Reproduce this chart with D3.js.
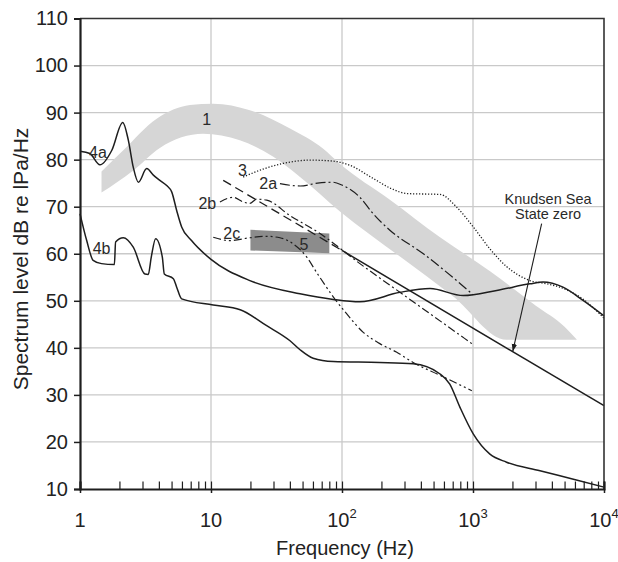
<!DOCTYPE html>
<html>
<head>
<meta charset="utf-8">
<script src="https://cdn.jsdelivr.net/npm/d3@7"></script>
<style>
  body { margin: 0; background: #fff; }
  svg { display: block; font-family: "Liberation Sans", Arial, sans-serif; }
</style>
</head>
<body>
<svg id="chart" width="618" height="562"></svg>
<script>
// ---- data: [frequency Hz, level dB] ----
const curve4a = [[1.0, 81.8], [1.19, 81.3], [1.42, 78.9], [1.75, 82.0], [2.12, 87.9], [2.34, 84.1], [2.55, 78.4],
  [2.79, 75.2], [3.23, 78.1], [3.63, 76.7], [4.07, 75.6], [4.59, 74.5], [5.02, 73.1], [5.47, 69.2], [5.97, 65.7],
  [7.1, 62.8], [10, 58.8], [19.8, 54.3], [47.8, 51.5], [85.8, 50.3], [137, 49.8], [277, 51.8], [470, 52.6],
  [843, 51.1], [1517, 52.2], [2723, 53.6], [3420, 54.0], [4863, 52.9], [6918, 50.1], [10000, 46.8]];

const curve4b = [[1.0, 68.5], [1.125, 62.8], [1.26, 58.6], [1.46, 57.9], [1.83, 57.7], [1.87, 62.5], [2.14, 63.4],
  [2.55, 61.4], [3.13, 55.7], [3.32, 55.6], [3.5, 59.3], [3.78, 63.2], [4.25, 59.3], [4.40, 55.7], [5.16, 54.7],
  [5.47, 52.9], [5.97, 50.4], [10.4, 49.1], [16.7, 48.1], [26.6, 44.7], [40.1, 41.5], [47.8, 39.6], [60.2, 37.8],
  [85.8, 37.1], [194, 36.9], [349, 36.6], [557, 34.5], [665, 32.3], [794, 27.4], [1004, 21.7], [1346, 17.4],
  [1804, 15.7], [3247, 13.9], [6148, 11.9], [10000, 10.4]];

const band1Upper = [[1.46, 77.5], [2.14, 82.0], [3.85, 88.7], [6.91, 91.6], [10.4, 91.9], [19.8, 90.5], [40.1, 86.6],
  [71.9, 82.3], [96.5, 79.1], [232, 71.5], [560, 63.5], [1349, 56.3], [3000, 49.0], [5000, 44.5], [6194, 41.8]];
const band1Lower = [[1.46, 73.0], [2.55, 77.7], [4.07, 82.5], [8.7, 85.5], [16.6, 84.1], [29.9, 80.6], [47.8, 76.3],
  [96.5, 69.0], [277, 59.4], [700, 51.0], [1807, 41.7], [6194, 41.7]];

const curve3 = [[17.6, 76.3], [25, 78.0], [35.6, 79.2], [57, 79.9], [85, 79.7], [115, 78.8], [173, 76.0], [240, 73.8],
  [312, 72.8], [560, 72.6], [751, 69.9], [1005, 65.7], [1349, 61.0], [1800, 57.3], [2723, 54.3], [3655, 53.6],
  [4614, 52.9], [6950, 50.3], [10000, 46.3]];

const curve2a = [[33.6, 74.9], [48, 74.4], [65, 75.0], [85, 75.2], [100, 74.6], [137, 72.0], [173, 68.5], [232, 65.0],
  [418, 60.0], [700, 55.0], [1000, 51.3]];

const curve2b = [[11.7, 71.0], [14.8, 72.0], [17.6, 71.0], [19.8, 70.7], [22.3, 71.6], [26.6, 71.4], [40.1, 68.1],
  [67.9, 64.3], [137, 57.9], [330, 50.3], [980, 40.9]];

const curve2c = [[10.4, 63.5], [13.9, 62.8], [19.8, 63.4], [26.6, 63.7], [33.6, 63.4], [42.4, 62.1], [53.8, 59.3],
  [64.1, 56.0], [86, 50.8], [108.8, 47.2], [145.3, 43.3], [194.4, 40.9], [260, 39.1], [349, 36.9], [557, 34.2],
  [980, 30.9]];

const knudsenDashed = [[12.4, 75.6], [100, 60.7]];
const knudsenSolid = [[100, 60.7], [10000, 27.7]];
const knudsenArrow = [[3342, 66.4], [2010, 39.2]];

const box5 = [[20, 65.1], [80, 64.3], [80, 60.1], [20, 60.7]];

const curveLabels = [
  { text: "1", f: 9.27, db: 88.6 }, { text: "4a", f: 1.37, db: 81.6 }, { text: "4b", f: 1.46, db: 61.1 },
  { text: "3", f: 17.4, db: 77.6 }, { text: "2a", f: 27.3, db: 74.9 }, { text: "2b", f: 9.37, db: 70.6 },
  { text: "2c", f: 14.4, db: 64.4 }, { text: "5", f: 51.3, db: 62.0 }
];
const knudsenText = [{ text: "Knudsen Sea", f: 3740, db: 71.7 }, { text: "State zero", f: 3740, db: 68.4 }];

const xTickValues = [1, 10, 100, 1000, 10000];
const xTickLabels = [["1", ""], ["10", ""], ["10", "2"], ["10", "3"], ["10", "4"]];
const yTickValues = [10, 20, 30, 40, 50, 60, 70, 80, 90, 100, 110];
const gridX = [10, 100, 1000];
const gridY = [20, 30, 40, 50, 60, 70, 80, 90, 100];

// ---- chart ----
const svg = d3.select("#chart");
const x = d3.scaleLog().domain([1, 1e4]).range([80, 604]);
const y = d3.scaleLinear().domain([10, 110]).range([489, 18.5]);
const ink = "#1e1e1e";

// grid
svg.append("g").selectAll("line").data(gridX).join("line")
  .attr("x1", d => x(d)).attr("x2", d => x(d)).attr("y1", y(10)).attr("y2", y(110))
  .attr("stroke", "#c9c9c9").attr("stroke-width", 1.3);
svg.append("g").selectAll("line").data(gridY).join("line")
  .attr("x1", x(1)).attr("x2", x(1e4)).attr("y1", d => y(d)).attr("y2", d => y(d))
  .attr("stroke", "#c9c9c9").attr("stroke-width", 1.3);

const line = d3.line().x(d => x(d[0])).y(d => y(d[1])).curve(d3.curveMonotoneX);

// shaded band 1
const bandPath = line(band1Upper) + line(band1Lower.slice().reverse()).replace(/^M/, "L") + "Z";
svg.append("path").attr("d", bandPath).attr("fill", "#d6d6d6");

// box 5
svg.append("path")
  .attr("d", d3.line().x(d => x(d[0])).y(d => y(d[1]))(box5) + "Z")
  .attr("fill", "#8c8c8c");

// curves
const curves = [
  { data: curve4a, dash: null, w: 1.5 },
  { data: curve4b, dash: null, w: 1.5 },
  { data: curve3, dash: "1.2,1.8", w: 1.3 },
  { data: curve2a, dash: "10,3,2,3", w: 1.2 },
  { data: curve2b, dash: "8,3,2,3", w: 1.2 },
  { data: curve2c, dash: "8,3,2,3,2,3", w: 1.2 },
  { data: knudsenDashed, dash: "9,5", w: 1.3 },
  { data: knudsenSolid, dash: null, w: 1.5 }
];
svg.append("g").selectAll("path").data(curves).join("path")
  .attr("d", d => line(d.data))
  .attr("fill", "none").attr("stroke", ink)
  .attr("stroke-width", d => d.w)
  .attr("stroke-dasharray", d => d.dash);

// arrow to Knudsen line
svg.append("defs").append("marker")
  .attr("id", "arrow").attr("viewBox", "0 0 10 10").attr("refX", 10).attr("refY", 5)
  .attr("markerWidth", 7).attr("markerHeight", 7).attr("orient", "auto")
  .append("path").attr("d", "M0,1.5L10,5L0,8.5Z").attr("fill", ink);
svg.append("line")
  .attr("x1", x(knudsenArrow[0][0])).attr("y1", y(knudsenArrow[0][1]))
  .attr("x2", x(knudsenArrow[1][0])).attr("y2", y(knudsenArrow[1][1]))
  .attr("stroke", ink).attr("stroke-width", 1.1).attr("marker-end", "url(#arrow)");

// labels
svg.append("g").selectAll("text").data(curveLabels).join("text")
  .attr("x", d => x(d.f)).attr("y", d => y(d.db))
  .attr("text-anchor", "middle").attr("dominant-baseline", "central")
  .attr("font-size", 16).attr("fill", "#2a2a2a")
  .text(d => d.text);
svg.append("g").selectAll("text").data(knudsenText).join("text")
  .attr("x", d => x(d.f)).attr("y", d => y(d.db))
  .attr("text-anchor", "middle").attr("dominant-baseline", "central")
  .attr("font-size", 14.5).attr("fill", "#2a2a2a")
  .text(d => d.text);

// frame (top, right)
svg.append("path")
  .attr("d", `M${x(1)},${y(110)}H${x(1e4)}V${y(10)}`)
  .attr("fill", "none").attr("stroke", "#333").attr("stroke-width", 1.6);

// y axis
const yAxisG = svg.append("g").attr("transform", `translate(${x(1)},0)`)
  .call(d3.axisLeft(y).tickValues(yTickValues).tickSize(6).tickPadding(6));
yAxisG.select(".domain").attr("stroke", ink).attr("stroke-width", 2.2);
yAxisG.selectAll(".tick line").attr("stroke", ink).attr("stroke-width", 1.5);
yAxisG.selectAll("text").attr("font-size", 20).attr("fill", "#222").attr("font-family", null);

// x axis: minor ticks inward, majors crossing
const minorTicks = [];
for (let e = 0; e < 4; e++) for (let m = 1; m < 10; m++) minorTicks.push(m * Math.pow(10, e));
minorTicks.push(1e4);
const xAxisG = svg.append("g").attr("transform", `translate(0,${y(10)})`)
  .call(d3.axisBottom(x).tickValues(minorTicks).tickSize(-7.5).tickFormat(""));
xAxisG.select(".domain").attr("stroke", ink).attr("stroke-width", 2.2);
xAxisG.selectAll(".tick line").attr("stroke", ink).attr("stroke-width", 1.2);

const xMajorG = svg.append("g").attr("transform", `translate(0,${y(10)})`)
  .call(d3.axisBottom(x).tickValues(xTickValues).tickSize(4).tickFormat(""));
xMajorG.select(".domain").remove();
xMajorG.selectAll(".tick line").attr("stroke", ink).attr("stroke-width", 1.5);

const xLab = svg.append("g").selectAll("text").data(xTickValues).join("text")
  .attr("x", d => x(d)).attr("y", y(10) + 38)
  .attr("text-anchor", "middle").attr("font-size", 20).attr("fill", "#222");
xLab.append("tspan").text((d, i) => xTickLabels[i][0]);
xLab.append("tspan").attr("font-size", 13).attr("dy", -9).text((d, i) => xTickLabels[i][1]);

// axis titles
svg.append("text")
  .attr("x", (x(1) + x(1e4)) / 2 + 3).attr("y", 555)
  .attr("text-anchor", "middle").attr("font-size", 20).attr("fill", "#222")
  .text("Frequency (Hz)");
svg.append("text")
  .attr("transform", `translate(28,259) rotate(-90)`)
  .attr("text-anchor", "middle").attr("font-size", 21).attr("fill", "#222")
  .text("Spectrum level dB re lPa/Hz");
</script>
</body>
</html>
